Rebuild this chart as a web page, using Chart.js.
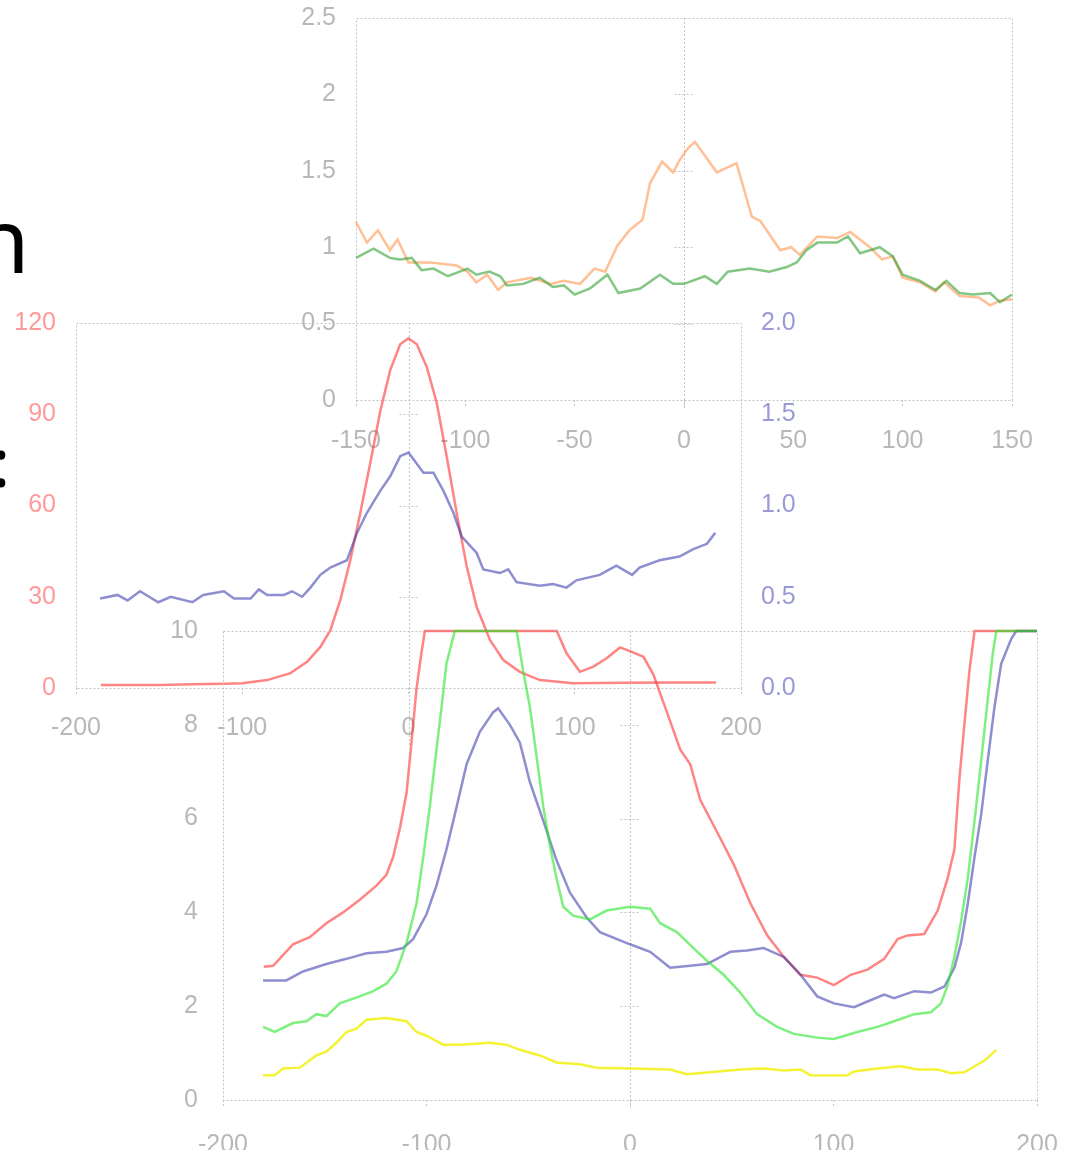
<!DOCTYPE html>
<html>
<head>
<meta charset="utf-8">
<script src="https://cdn.jsdelivr.net/npm/chart.js@4"></script>
<style>
  html, body { margin: 0; padding: 0; background: #fff; }
  #page { position: relative; width: 1076px; height: 1158px; overflow: hidden; }
  canvas { position: absolute; left: 0; top: 0; }
  .frag { position: absolute; font-family: 'Noto Sans'; color: #000; line-height: 1; white-space: nowrap; }
</style>
</head>
<body>
<div id="page">
  <span class="frag" style="left:-26px; top:193px; font-size:90px;">n</span>
  <span class="frag" style="left:-8px; top:427px; font-size:68px;">:</span>
  <canvas id="chartA" width="1076" height="1158"></canvas>
  <canvas id="chartB" width="1076" height="1158"></canvas>
  <canvas id="chartC" width="1076" height="1158"></canvas>
</div>
<script>
// ---- top panel (x -150..150, y 0..2.5)
const aOrangeX = [-150,-145,-140,-134.5,-131,-126,-116,-104,-99,-95,-90,-85,-81,-70,-61,-55,-47.5,-41,-36,-30.5,-25,-19,-15.5,-10,-5,-2,2,5,15,24,31,35,44,49,53,61,70,76,85,90.5,95.5,100,108,115,119,126,135,140,144.5,150];
const aOrange  = [1.165,1.03,1.11,0.98,1.05,0.90,0.90,0.88,0.84,0.77,0.82,0.72,0.77,0.80,0.76,0.78,0.76,0.86,0.84,1.01,1.11,1.18,1.42,1.56,1.49,1.57,1.65,1.69,1.49,1.55,1.20,1.17,0.98,1.00,0.95,1.07,1.06,1.10,1.00,0.92,0.94,0.80,0.77,0.71,0.77,0.68,0.67,0.62,0.65,0.66];
const aGreenX  = [-150,-142,-134.5,-130,-124.5,-120,-114.5,-108,-99,-95,-89,-84,-81,-73.5,-66,-60,-55,-50,-43,-35,-30,-20,-11,-5,0,9.5,15,20,30,39,47,51.5,56,61,70,75,80.5,89.5,95.5,100,108,115,120,126,132,140,144.5,150];
const aGreen   = [0.93,0.99,0.93,0.92,0.93,0.85,0.86,0.81,0.86,0.82,0.84,0.81,0.75,0.76,0.80,0.74,0.75,0.69,0.73,0.82,0.70,0.73,0.82,0.76,0.76,0.81,0.76,0.84,0.86,0.84,0.87,0.90,0.98,1.03,1.03,1.07,0.96,1.00,0.94,0.82,0.78,0.72,0.78,0.70,0.69,0.70,0.64,0.69];

// ---- middle panel (x -200..200, left y 0..120, right y 0..2)
const bRedX  = [-185,-170,-150,-130,-110,-100,-85,-71,-61,-53,-47,-41,-35,-29,-23,-17,-11,-5,0,5,11,17,23,29,35,41,49,57,67,79,99,130,160,185];
const bRed   = [1,1,1,1.2,1.4,1.6,2.6,4.9,8.6,13.5,19,29,42,57.5,74,91,104.5,113,115,113,105.5,93.7,76,57.5,40,26.6,15.8,9.2,5.3,2.6,1.6,1.7,1.8,1.8];
const bBlueX = [-185.5,-175,-169,-161.5,-150.5,-143,-130,-123.5,-111,-105,-95,-90,-85,-75,-70,-64,-59,-53,-47,-37,-31,-25,-17,-11,-5,0,9,15,21,27,32,41,45,55,60,65,79,87,95,101,115,125,134.5,139,151,163,171,179.5,184.5];
const bBlue  = [0.49,0.51,0.48,0.53,0.47,0.50,0.47,0.51,0.53,0.49,0.49,0.54,0.51,0.51,0.53,0.50,0.55,0.62,0.66,0.70,0.85,0.96,1.08,1.16,1.27,1.29,1.18,1.18,1.08,0.96,0.83,0.74,0.65,0.63,0.65,0.58,0.56,0.57,0.55,0.59,0.62,0.67,0.62,0.66,0.70,0.72,0.76,0.79,0.85];

// ---- bottom panel (x -200..200, y 0..10)
const cRedX  = [-180,-175.4,-165.6,-157.4,-149.2,-141,-132.8,-124.6,-119.7,-116.4,-113.1,-109.8,-107.4,-104.9,-102.5,-100.8,-70,-36,-31.1,-24.6,-18,-11.5,-4.9,0,6.6,11.5,19.7,24.7,29.6,34.5,42.7,50.9,59.2,67.4,75.6,83.8,92,100.2,108.5,116.7,124.9,131.5,136.4,144.6,151.2,156.1,159.4,161.9,164.3,166.8,169.3,185,200];
const cRed   = [2.84,2.86,3.32,3.47,3.77,4.00,4.27,4.57,4.80,5.18,5.79,6.55,7.62,8.77,9.53,10,10,10,9.52,9.13,9.24,9.42,9.65,9.57,9.45,9.07,8.08,7.47,7.16,6.40,5.72,5.03,4.19,3.51,3.05,2.67,2.61,2.45,2.67,2.78,3.01,3.43,3.51,3.54,4.04,4.73,5.34,6.86,8.00,9.15,10,10,10];
const cGreenX = [-180.3,-174.6,-165.6,-159,-154.1,-149.2,-142.6,-132.8,-126.2,-119.7,-114.8,-109.8,-104.9,-101.6,-98.4,-95.1,-92.6,-90.2,-86.1,-70,-55.7,-52.5,-49.2,-45.9,-42.6,-39.3,-36.1,-32.8,-27.9,-19.7,-11.5,0,9.9,14.8,23,31.2,37.8,46,54.2,62.4,72.3,80.5,92,100.2,111.7,121.6,129.8,139.7,147.9,152.8,156.1,159.4,162.7,166,169.3,172.6,175.8,178.3,180,190,200];
const cGreen  = [1.56,1.45,1.64,1.68,1.83,1.79,2.06,2.21,2.32,2.48,2.74,3.35,4.19,5.18,6.25,7.47,8.38,9.30,10,10,10,9.15,8.38,7.32,6.25,5.41,4.73,4.12,3.93,3.85,4.04,4.12,4.08,3.77,3.58,3.24,2.97,2.67,2.29,1.83,1.56,1.41,1.33,1.30,1.45,1.56,1.68,1.83,1.87,2.06,2.44,3.05,3.81,4.73,5.95,7.24,8.54,9.53,10,10,10];
const cBlueX = [-180.3,-168.9,-160.7,-149.2,-139.3,-129.5,-119.7,-111.5,-106.6,-100,-95.1,-90.2,-85.2,-80.3,-73.8,-67.2,-64.8,-59,-54.1,-49.2,-42.6,-36.1,-29.5,-21.3,-14.8,0,9.9,19.7,29.6,37.8,49.3,57.5,65.7,75.6,83.8,92,100.2,110.1,116.7,124.9,129.8,139.7,147.9,154.5,159.4,162.7,166,169.3,172.6,175.8,179.1,182.4,187.3,189.8,200];
const cBlue  = [2.55,2.55,2.74,2.90,3.01,3.13,3.16,3.24,3.43,3.96,4.57,5.34,6.25,7.16,7.85,8.27,8.35,8.00,7.62,6.78,5.95,5.11,4.42,3.89,3.58,3.32,3.16,2.82,2.86,2.90,3.16,3.19,3.24,3.05,2.67,2.21,2.06,1.98,2.10,2.25,2.17,2.32,2.29,2.42,2.82,3.35,4.19,5.18,6.10,7.24,8.38,9.30,9.83,10,10];
const cYellowX = [-180.3,-174.6,-170.5,-162.3,-154.1,-149.2,-144.3,-139.3,-134.4,-129.5,-119.7,-109.8,-104.9,-100,-91.8,-83.6,-68.9,-60.7,-54.1,-44.3,-36.1,-24.6,-16.4,0,19.7,27.9,39.4,54.2,65.7,75.6,83.8,88.7,100.2,106.8,110.1,121.6,133.1,141.3,151.2,157.8,164.3,169.3,174.2,180];
const cYellow  = [0.53,0.53,0.67,0.69,0.95,1.03,1.22,1.45,1.52,1.71,1.75,1.68,1.45,1.37,1.18,1.18,1.22,1.18,1.07,0.95,0.80,0.76,0.69,0.67,0.65,0.55,0.59,0.65,0.67,0.63,0.65,0.53,0.52,0.53,0.61,0.67,0.72,0.65,0.65,0.57,0.59,0.72,0.84,1.07];

const GRAY = '#b8b8b8';
const FRAME = '#c4c4c4';
const FONT = { family: 'Liberation Sans', size: 25 };
const W = 1076, H = 1158;

function pts(xs, ys) {
  return xs.map((x, i) => ({ x: x, y: ys[i] }));
}

function line(xs, ys, color, axis) {
  return {
    data: pts(xs, ys),
    borderColor: color,
    borderWidth: 2.5,
    pointRadius: 0,
    tension: 0,
    clip: 4,
    yAxisID: axis || 'y'
  };
}

function xScale(min, max, step, pad) {
  return {
    type: 'linear', min: min, max: max,
    ticks: { stepSize: step, color: GRAY, font: FONT, padding: pad, maxRotation: 0, autoSkip: false },
    grid: { drawOnChartArea: false, drawTicks: true, tickLength: 8, color: FRAME, tickBorderDash: [2, 2] },
    border: { display: false },
    afterFit: s => { s.height = 50; s.paddingLeft = 0; s.paddingRight = 0; }
  };
}

function yScale(pos, min, max, step, color, fmt, pad) {
  return {
    type: 'linear', position: pos, min: min, max: max,
    ticks: { stepSize: step, color: color, font: FONT, padding: pad || 20, callback: fmt || (v => String(v)) },
    grid: { display: false, drawTicks: false },
    border: { display: false },
    afterFit: s => { s.width = 60; s.paddingTop = 0; s.paddingBottom = 0; }
  };
}

// dotted box round the plot, plus the dotted x = 0 line with its little cross ticks
function framePlugin(tickAxis, zeroDrop) {
  return {
    id: 'frame',
    beforeDatasetsDraw(chart) {
      const { ctx, chartArea: a, scales } = chart;
      const ys = scales[tickAxis];
      ctx.save();
      ctx.strokeStyle = FRAME;
      ctx.lineWidth = 1;
      ctx.setLineDash([2, 2]);
      ctx.strokeRect(Math.round(a.left) + 0.5, Math.round(a.top) + 0.5, Math.round(a.width), Math.round(a.height));
      const x0 = Math.round(scales.x.getPixelForValue(0)) + 0.5;
      ctx.beginPath();
      ctx.moveTo(x0, a.top);
      ctx.lineTo(x0, a.bottom + zeroDrop);
      ys.ticks.forEach(t => {
        if (t.value <= ys.min || t.value >= ys.max) return;
        const py = Math.round(ys.getPixelForValue(t.value)) + 0.5;
        ctx.moveTo(x0 - 10, py);
        ctx.lineTo(x0 + 10, py);
      });
      ctx.stroke();
      ctx.restore();
    }
  };
}

function baseOptions(padding, scales) {
  return {
    responsive: false,
    animation: false,
    devicePixelRatio: 1,
    events: [],
    layout: { padding: padding },
    plugins: { legend: { display: false }, tooltip: { enabled: false } },
    scales: scales
  };
}

// top panel: plot box 356..1012 x 18..400
new Chart(document.getElementById('chartA'), {
  type: 'line',
  data: {
    datasets: [
      line(aGreenX, aGreen, 'rgba(50,160,50,0.6)'),
      line(aOrangeX, aOrange, 'rgba(255,150,80,0.6)')
    ]
  },
  options: baseOptions(
    { left: 296, right: W - 1012, top: 18, bottom: H - 400 - 50 },
    { x: xScale(-150, 150, 50, 18), y: yScale('left', 0, 2.5, 0.5, GRAY) }
  ),
  plugins: [framePlugin('y', 8)]
});

// middle panel: plot box 76..741 x 323..688, two y axes
new Chart(document.getElementById('chartB'), {
  type: 'line',
  data: {
    datasets: [
      line(bBlueX, bBlue, 'rgba(50,50,170,0.55)', 'y1'),
      line(bRedX, bRed, 'rgba(255,50,50,0.6)', 'y')
    ]
  },
  options: baseOptions(
    { left: 16, right: W - 741 - 60, top: 323, bottom: H - 688 - 50 },
    {
      x: xScale(-200, 200, 100, 17),
      y: yScale('left', 0, 120, 30, '#ff9a9a'),
      y1: yScale('right', 0, 2, 0.5, '#9a9ad8', v => v.toFixed(1))
    }
  ),
  plugins: [framePlugin('y', 57)]
});

// bottom panel: plot box 223..1037 x 631..1100
new Chart(document.getElementById('chartC'), {
  type: 'line',
  data: {
    datasets: [
      line(cYellowX, cYellow, 'rgba(240,240,0,0.8)'),
      line(cGreenX, cGreen, 'rgba(40,230,40,0.6)'),
      line(cBlueX, cBlue, 'rgba(50,50,170,0.55)'),
      line(cRedX, cRed, 'rgba(255,50,50,0.6)')
    ]
  },
  options: baseOptions(
    { left: 163, right: W - 1037, top: 631, bottom: H - 1100 - 50 },
    { x: xScale(-200, 200, 100, 22), y: yScale('left', 0, 10, 2, GRAY, null, 25) }
  ),
  plugins: [framePlugin('y', 8)]
});
</script>
</body>
</html>
